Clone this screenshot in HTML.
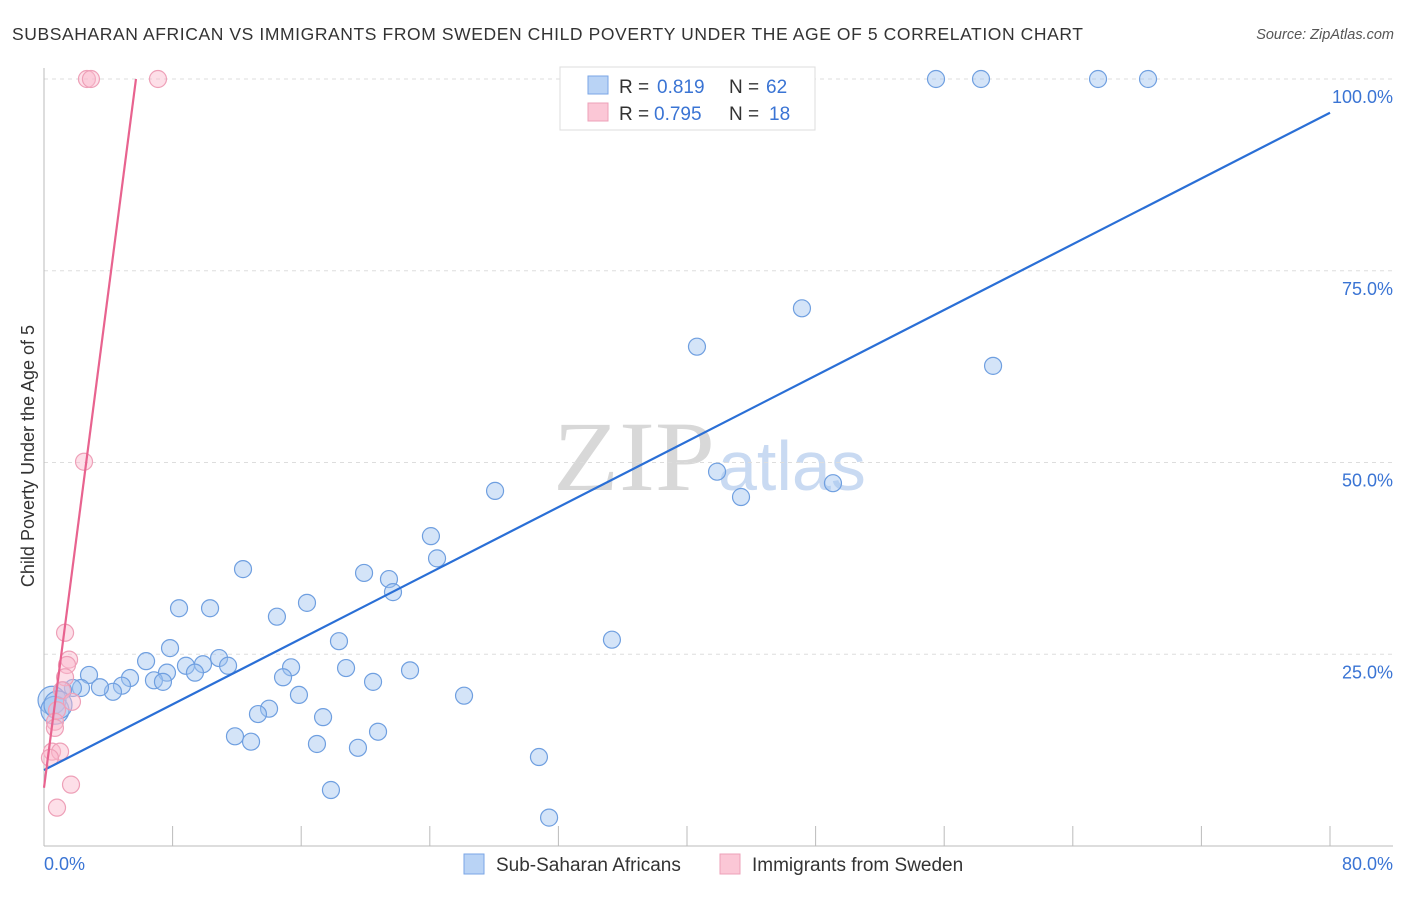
<!DOCTYPE html>
<html><head><meta charset="utf-8"><style>
body{margin:0;background:#fff;font-family:"Liberation Sans",sans-serif}
svg text{font-family:"Liberation Sans",sans-serif}
</style></head><body>
<svg id="c" width="1406" height="892">
<text x="12" y="40" font-size="17.5" fill="#333" textLength="1071" lengthAdjust="spacing">SUBSAHARAN AFRICAN VS IMMIGRANTS FROM SWEDEN CHILD POVERTY UNDER THE AGE OF 5 CORRELATION CHART</text>
<text x="1394" y="39" font-size="14.5" fill="#555" font-style="italic" text-anchor="end">Source: ZipAtlas.com</text>
<text x="553" y="490" font-size="100" fill="#d8d8d8" textLength="162" lengthAdjust="spacingAndGlyphs" style="font-family:'Liberation Serif',serif">ZIP</text>
<text x="718" y="490" font-size="70" fill="#c9daf2">atlas</text>
<g id="grid"></g><g id="axes"></g><g id="pts"></g><g id="lines"></g>
<text transform="translate(34,456) rotate(-90)" font-size="18" fill="#333" text-anchor="middle">Child Poverty Under the Age of 5</text>
<g>
<rect x="560" y="67" width="255" height="63" fill="#fff" stroke="#ddd"/>
<rect x="588" y="76" width="20" height="18" fill="#b9d3f5" stroke="#7aa6e6"/>
<rect x="588" y="103" width="20" height="18" fill="#fbc7d6" stroke="#eea0b8"/>
<text x="619" y="93" font-size="19" fill="#333">R =</text>
<text x="657" y="93" font-size="19" fill="#3a74d4">0.819</text>
<text x="729" y="93" font-size="19" fill="#333">N =</text>
<text x="766" y="93" font-size="19" fill="#3a74d4">62</text>
<text x="619" y="120" font-size="19" fill="#333">R =</text>
<text x="654" y="120" font-size="19" fill="#3a74d4">0.795</text>
<text x="729" y="120" font-size="19" fill="#333">N =</text>
<text x="769" y="120" font-size="19" fill="#3a74d4">18</text>
</g>
<g>
<rect x="464" y="854" width="20" height="20" fill="#b9d3f5" stroke="#7aa6e6"/>
<text x="496" y="871" font-size="19" fill="#333">Sub-Saharan Africans</text>
<rect x="720" y="854" width="20" height="20" fill="#fbc7d6" stroke="#eea0b8"/>
<text x="752" y="871" font-size="19" fill="#333">Immigrants from Sweden</text>
</g>
</svg>
<script>
const blueX=[55.49,58.29,65.57,68.68,47.15,40.62,59.04,41.87,43.36,49.08,28.06,24.07,24.45,19.91,21.46,21.71,12.38,8.40,10.33,16.36,14.49,35.33,18.35,7.84,6.35,8.83,10.89,11.45,9.89,9.39,15.37,18.79,22.77,14.87,20.47,7.65,6.84,7.40,5.35,4.85,4.29,2.80,3.48,2.30,1.80,1.18,0.50,0.68,0.87,15.86,26.13,14.00,13.31,17.36,11.88,12.88,16.98,20.78,19.53,30.79,17.85,31.42];
const blueY=[100,100,100,100,70.1,65.1,62.6,48.8,45.5,47.3,46.3,40.4,37.5,35.6,34.8,33.1,36.1,31.0,31.0,31.7,29.9,26.9,26.7,25.8,24.1,23.5,24.5,23.5,23.7,22.6,23.3,23.2,22.9,22.0,21.4,22.6,21.6,21.4,21.9,20.9,20.1,22.3,20.7,20.6,20.6,20.3,19.0,17.7,18.4,19.7,19.6,17.9,17.2,16.8,14.3,13.6,13.3,14.9,12.8,11.6,7.3,3.7];
const pinkX=[2.67,2.92,7.09,2.49,1.31,1.56,1.43,1.31,1.12,1.74,0.81,0.68,0.68,0.50,1.00,0.37,1.68,0.81];
const pinkY=[100,100,100,50.1,27.8,24.3,23.6,22.0,20.3,18.8,17.7,16.2,15.4,12.3,12.3,11.5,8.0,5.0];
const blueTrend=[9.9,95.6]; // y at x=0 and x=80
const pinkTrend=[7.6,16.15]; // intercept, slope
const yTicks=[25,50,75,100];
const xTickVals=[0,8,16,24,32,40,48,56,64,72,80];
const X=v=>44+v*1286/80, Y=v=>846-v*7.67;
const NS='http://www.w3.org/2000/svg';
function mk(t,a,p){const e=document.createElementNS(NS,t);for(const k in a)e.setAttribute(k,a[k]);p.appendChild(e);return e;}
const grid=document.getElementById('grid'),axes=document.getElementById('axes'),pts=document.getElementById('pts'),lines=document.getElementById('lines');
yTicks.forEach(v=>{
 const l=mk('line',{x1:44,x2:1393,y1:Y(v),y2:Y(v),stroke:'#ddd','stroke-dasharray':'4,4'},grid);
 
 
 const t=mk('text',{x:1393,y:Y(v)+24,'font-size':18,fill:'#3a74d4','text-anchor':'end'},grid);
 t.textContent=v.toFixed(1)+'%';
 
 
});
const xa=mk('line',{x1:44,x2:1393,y1:846,y2:846,stroke:'#bbb'},axes);


const ya=mk('line',{x1:44,x2:44,y1:68,y2:846,stroke:'#bbb'},axes);


xTickVals.slice(1).forEach(v=>{
 const l=mk('line',{x1:X(v),x2:X(v),y1:826,y2:846,stroke:'#bbb'},axes);
 
 
});
[[0,'start',44],[80,'end',1393]].forEach(([v,a,x])=>{
 const t=mk('text',{x:x,y:870,'font-size':18,fill:'#3a74d4','text-anchor':a},axes);
 t.textContent=v.toFixed(1)+'%';
 
 
});
blueX.forEach((x,i)=>{
 const c=mk('circle',{cx:X(x),cy:Y(blueY[i]),r:x<1?14:8.5,fill:'rgba(160,196,240,0.45)',stroke:'#6f9fe0','stroke-width':1.2},pts);
 
 
});
pinkX.forEach((x,i)=>{
 const c=mk('circle',{cx:X(x),cy:Y(pinkY[i]),r:8.5,fill:'rgba(250,185,205,0.45)',stroke:'#eea0b8','stroke-width':1.2},pts);
 
 
});
const bl=mk('line',{x1:X(0),y1:Y(blueTrend[0]),x2:X(80),y2:Y(blueTrend[1]),stroke:'#2a6fd6','stroke-width':2.2},lines);


const xe=(100-pinkTrend[0])/pinkTrend[1];
const pl=mk('line',{x1:X(0),y1:Y(pinkTrend[0]),x2:X(xe),y2:Y(100),stroke:'#e8638f','stroke-width':2.2},lines);


</script>
</body></html>
